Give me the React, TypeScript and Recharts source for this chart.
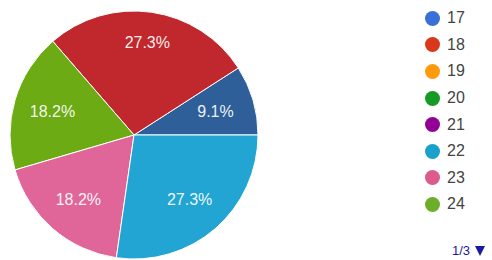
import React from 'react';
import { PieChart, Pie, Cell } from 'recharts';

const categories = ['17', '18', '19', '20', '21', '22', '23', '24'];
const counts = [1, 3, 0, 0, 0, 3, 2, 2];
const legendColors = ['#3a6fd6', '#d9391a', '#ff9a0d', '#159a25', '#930096', '#1aa0cc', '#dd5a8c', '#6cae2a'];
const sliceColors = ['#2e5f99', '#c0282d', '#ff9900', '#109618', '#990099', '#22a5d3', '#e0669a', '#6cab14'];
// drawing order of the slices, counter-clockwise from 3 o'clock
const sliceOrder = ['17', '18', '19', '20', '21', '24', '23', '22'];
const pageLabel = '1/3';

// label distance from centre, as a fraction of the radius (styling)
const labelRadius: Record<string, number> = { '18': 0.755 };

const pieData = sliceOrder
  .map((c) => {
    const i = categories.indexOf(c);
    return { name: c, value: counts[i], color: sliceColors[i] };
  })
  .filter((d) => d.value > 0);

const RAD = Math.PI / 180;

const renderLabel = (props: any) => {
  const { cx, cy, midAngle, outerRadius, percent, name } = props;
  const r = outerRadius * (labelRadius[name] ?? 0.685);
  const x = cx + r * Math.cos(-midAngle * RAD);
  const y = cy + r * Math.sin(-midAngle * RAD);
  return (
    <text
      x={x}
      y={y}
      fill="#ffffff"
      fillOpacity={0.93}
      textAnchor="middle"
      dominantBaseline="central"
      fontFamily="Arial, 'Liberation Sans', sans-serif"
      fontSize={16}
    >
      {(percent * 100).toFixed(1) + '%'}
    </text>
  );
};

export default function App() {
  return (
    <div style={{ position: 'absolute', left: 0, top: 0, width: 492, height: 260, background: '#ffffff', overflow: 'hidden' }}>
      <PieChart width={492} height={260} margin={{ top: 0, right: 0, bottom: 0, left: 0 }}>
        <Pie
          data={pieData}
          dataKey="value"
          nameKey="name"
          cx={134}
          cy={135}
          outerRadius={124}
          startAngle={0}
          endAngle={360}
          stroke="#ffffff"
          strokeWidth={1}
          label={renderLabel}
          labelLine={false}
          isAnimationActive={false}
        >
          {pieData.map((d) => (
            <Cell key={d.name} fill={d.color} />
          ))}
        </Pie>
      </PieChart>
      <div style={{ position: 'absolute', left: 425, top: 5, fontFamily: "Arial, 'Liberation Sans', sans-serif" }}>
        {categories.map((c, i) => (
          <div key={c} style={{ display: 'flex', alignItems: 'center', height: 26.6 }}>
            <span
              style={{
                display: 'inline-block',
                width: 15,
                height: 15,
                borderRadius: 8,
                background: legendColors[i],
                marginRight: 7,
              }}
            />
            <span style={{ fontSize: 16, color: '#444444' }}>{c}</span>
          </div>
        ))}
      </div>
      <div
        style={{
          position: 'absolute',
          left: 452,
          top: 243,
          fontFamily: "Arial, 'Liberation Sans', sans-serif",
          fontSize: 13,
          color: '#1a1aa0',
          display: 'flex',
          alignItems: 'center',
        }}
      >
        <span>{pageLabel}</span>
        <svg width={12} height={12} style={{ marginLeft: 5 }}>
          <polygon points="0,1 10,1 5,11" fill="#1a1aa0" />
        </svg>
      </div>
    </div>
  );
}
